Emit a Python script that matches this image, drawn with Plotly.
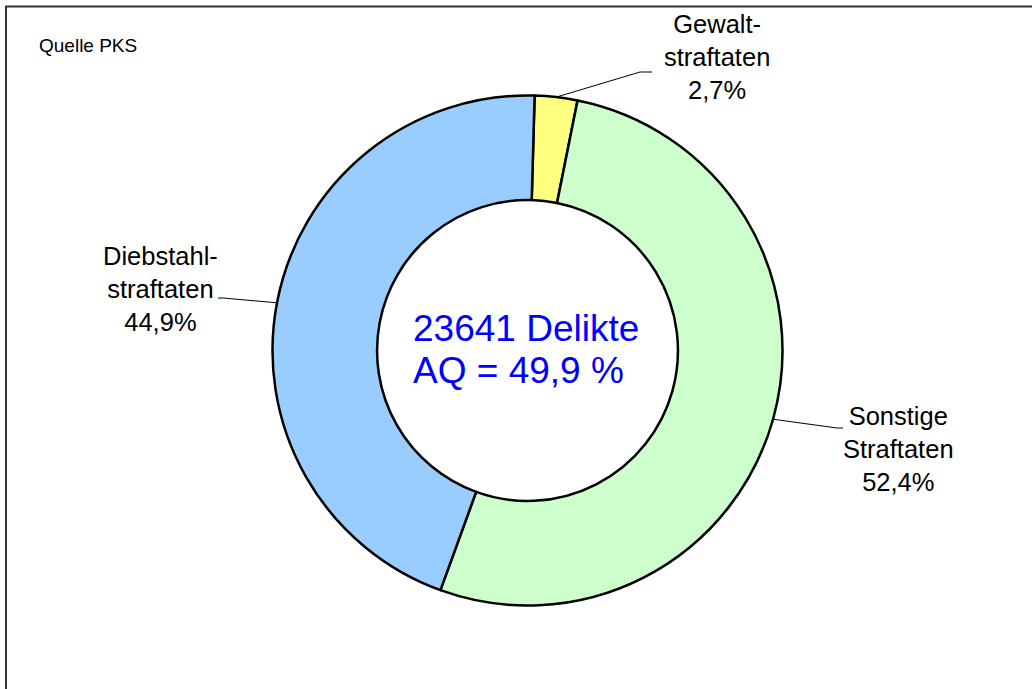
import math
import plotly.graph_objects as go

# Delikte nach Deliktsgruppen (Anteile in %)
categories = ["Gewaltstraftaten", "Sonstige Straftaten", "Diebstahlstraftaten"]
label_texts = ["Gewalt-<br>straftaten", "Sonstige<br>Straftaten", "Diebstahl-<br>straftaten"]
shares = [2.7, 52.4, 44.9]
colors = ["#FFFF80", "#CCFFCC", "#99CCFF"]
total_cases = 23641
clearance_rate = 49.9

W, H = 1032, 689
CX, CY, R = 527.5, 350.5, 255.0
HOLE = 0.59
ROTATION = 1.6  # first slice starts slightly clockwise of 12 o'clock

# label text centre and leader elbow (pixels) for each slice
label_layout = [
    {"text": (717, 57), "elbow": (640, 72), "end": (652, 72)},
    {"text": (898, 449), "elbow": (837, 428), "end": (843, 428)},
    {"text": (160, 289), "elbow": (223, 298), "end": (218, 298)},
]


def px(x):
    return x / W


def py(y):
    return 1 - y / H


def fmt_num(v):
    return f"{v:.1f}".replace(".", ",")


fig = go.Figure()
fig.add_trace(go.Pie(
    labels=categories,
    values=shares,
    sort=False,
    direction="clockwise",
    rotation=ROTATION,
    hole=HOLE,
    marker=dict(colors=colors, line=dict(color="black", width=2.5)),
    textinfo="none",
    hoverinfo="label+percent",
    showlegend=False,
    domain=dict(x=[px(CX - R), px(CX + R)], y=[py(CY + R), py(CY - R)]),
))

font = "Liberation Sans, Arial, sans-serif"
total = sum(shares)
start = ROTATION
shapes = []
annotations = []
for name, txt, v, lay in zip(categories, label_texts, shares, label_layout):
    sweep = v / total * 360
    mid = math.radians(start + sweep / 2)
    start += sweep
    ox = CX + R * math.sin(mid)
    oy = CY - R * math.cos(mid)
    ex, ey = lay["elbow"]
    fx, fy = lay["end"]
    shapes.append(dict(type="path", xref="paper", yref="paper",
                       path=f"M {px(ox)} {py(oy)} L {px(ex)} {py(ey)} L {px(fx)} {py(fy)}",
                       line=dict(color="black", width=1)))
    tx, ty = lay["text"]
    annotations.append(dict(x=px(tx), y=py(ty), xref="paper", yref="paper",
                            text=f"{txt}<br>{fmt_num(v)}%", showarrow=False,
                            xanchor="center", yanchor="middle", align="center",
                            font=dict(family=font, size=25.5, color="black")))

# centre text, one annotation per line
centre_lines = [f"{total_cases} Delikte", f"AQ = {fmt_num(clearance_rate)} %"]
for line, y in zip(centre_lines, [328, 370]):
    annotations.append(dict(x=px(411), y=py(y), xref="paper", yref="paper",
                            text=line, showarrow=False, xanchor="left", yanchor="middle",
                            align="left", font=dict(family=font, size=37, color="#0000FF")))

# source note
annotations.append(dict(x=px(37), y=py(45), xref="paper", yref="paper",
                        text="Quelle PKS", showarrow=False, xanchor="left", yanchor="middle",
                        font=dict(family=font, size=19, color="black")))

# frame (left and top edges)
shapes.append(dict(type="line", xref="paper", yref="paper", x0=px(6), x1=px(6),
                   y0=py(6), y1=0, line=dict(color="#333333", width=2)))
shapes.append(dict(type="line", xref="paper", yref="paper", x0=px(5), x1=1,
                   y0=py(6.5), y1=py(6.5), line=dict(color="#333333", width=2)))

fig.update_layout(
    width=W, height=H,
    margin=dict(l=0, r=0, t=0, b=0),
    paper_bgcolor="white", plot_bgcolor="white",
    shapes=shapes, annotations=annotations,
)

fig.write_html("out.html")
